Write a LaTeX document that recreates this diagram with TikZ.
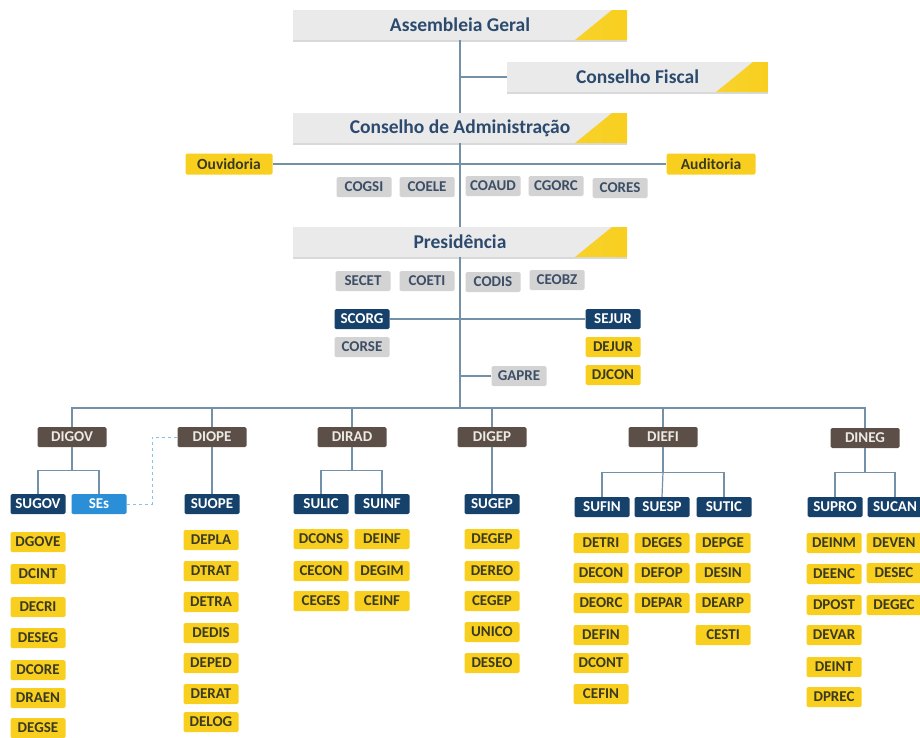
\documentclass[tikz,border=0pt]{standalone}
\usepackage{fontspec}
\setmainfont{Carlito}
\usetikzlibrary{shadows}

\definecolor{linkblue}{HTML}{7290A8}
\definecolor{titlegray}{HTML}{EAEAEA}
\definecolor{titletext}{HTML}{2C4A6E}
\definecolor{boxgray}{HTML}{D3D3D3}
\definecolor{graytext}{HTML}{3C4E66}
\definecolor{navy}{HTML}{15416A}
\definecolor{dirbrown}{HTML}{5B4F47}
\definecolor{browntext}{HTML}{EDE9E4}
\definecolor{sesblue}{HTML}{2A8FD6}
\definecolor{ylw}{HTML}{F8CF1F}
\definecolor{ylwlight}{HTML}{FBE36A}
\definecolor{ylwtext}{HTML}{3A3A22}

\begin{document}
\begin{tikzpicture}[x=1pt,y=-1pt,
  link/.style={draw=linkblue, line width=1.2pt},
  selink/.style={draw=sesblue!55, line width=1pt, dashed},
  unit/.style={rounded corners=1.5pt, inner sep=0pt, minimum height=20pt,
    minimum width=55pt, font=\fontsize{15}{16}\selectfont\bfseries},
  board/.style={unit, fill=boxgray, text=graytext},
  leaf/.style={unit, fill=ylw, text=ylwtext},
  supbox/.style={unit, fill=navy, text=white},
  dirbox/.style={unit, minimum width=69pt, fill=dirbrown, text=browntext},
  titlebox/.style={fill=titlegray, minimum width=334pt, minimum height=30pt,
    inner sep=0pt, text=titletext, font=\fontsize{19.5}{21}\selectfont\bfseries,
    drop shadow={shadow xshift=0pt, shadow yshift=-2pt, opacity=.3, fill=black!50},
    path picture={\shade[left color=ylwlight, right color=ylw]
      ([xshift=-52pt]path picture bounding box.south east) --
      ([xshift=-15pt]path picture bounding box.north east) --
      (path picture bounding box.north east) --
      (path picture bounding box.south east) -- cycle;}}]

  \def\xmin{0}
  \def\xmax{920}
  \def\ymin{0}
  \def\ymax{737}
  \useasboundingbox (\xmin,\ymin) rectangle (\xmax,\ymax);

  % councils
  \node[titlebox] (ag) at (460,25) {Assembleia Geral};
  \node[titlebox, minimum width=261pt] (cf) at (637.5,77) {Conselho Fiscal};
  \node[titlebox] (ca) at (460,128) {Conselho de Administração};
  \node[titlebox] (pres) at (460,242) {Presidência};

  \node[leaf, minimum width=87pt, minimum height=21pt,
    font=\fontsize{15.5}{16}\selectfont\bfseries] (ouv) at (229,164) {Ouvidoria};
  \node[leaf, minimum width=89pt, minimum height=21pt,
    font=\fontsize{15.5}{16}\selectfont\bfseries] (aud) at (711,164) {Auditoria};

  \foreach \lbl/\x/\y in {COGSI/364/187, COELE/427/187, COAUD/493/186,
                          CGORC/556/186, CORES/620/188,
                          SECET/363/281, COETI/427/281, CODIS/493/282,
                          CEOBZ/557/280, CORSE/362/347, GAPRE/519/376}
    \node[board] (\lbl) at (\x,\y) {\lbl};

  \node[supbox] (scorg) at (362,319) {SCORG};
  \node[supbox] (sejur) at (613,319) {SEJUR};
  \node[leaf] (dejur) at (613,347) {DEJUR};
  \node[leaf] (djcon) at (613,375) {DJCON};

  % trunk
  \coordinate (bus) at (460,408);
  \draw[link] (ag.south) -- (ca.north);
  \draw[link] (cf.west) -- (cf.west -| ag.south);
  \draw[link] (ca.south) -- (pres.north);
  \draw[link] (ouv.east) -- (aud.west);
  \draw[link] (pres.south) -- (pres.south |- bus);
  \draw[link] (scorg.east) -- (sejur.west);
  \draw[link] (GAPRE.west) -- (GAPRE.west -| pres.south);

  % directorates
  \node[dirbox] (digov) at (72,437) {DIGOV};
  \node[dirbox] (diope) at (212,437) {DIOPE};
  \node[dirbox] (dirad) at (352,437) {DIRAD};
  \node[dirbox] (digep) at (492,437) {DIGEP};
  \node[dirbox] (diefi) at (663,437) {DIEFI};
  \node[dirbox] (dineg) at (865,438) {DINEG};

  \draw[link] (digov.north) |- (dineg.north |- bus) -- (dineg.north);
  \foreach \d in {diope,dirad,digep,diefi}
    \draw[link] (\d.north) -- (\d.north |- bus);

  % superintendencies
  \node[supbox] (sugov) at (38,504) {SUGOV};
  \node[unit, fill=sesblue, text=white] (ses) at (99,504) {SEs};
  \node[supbox] (suope) at (212,504) {SUOPE};
  \node[supbox] (sulic) at (321,504) {SULIC};
  \node[supbox] (suinf) at (382,504) {SUINF};
  \node[supbox] (sugep) at (492,504) {SUGEP};
  \node[supbox] (sufin) at (602,507) {SUFIN};
  \node[supbox] (suesp) at (662,507) {SUESP};
  \node[supbox] (sutic) at (724,507) {SUTIC};
  \node[supbox] (supro) at (835,507) {SUPRO};
  \node[supbox] (sucan) at (895,507) {SUCAN};

  \draw[link] (digov.south) -- ++(0,23) coordinate (fgov);
  \draw[link] (sugov.north) |- (fgov) -| (ses.north);
  \draw[link] (diope.south) -- (suope.north);
  \draw[link] (dirad.south) -- ++(0,23) coordinate (frad);
  \draw[link] (sulic.north) |- (frad) -| (suinf.north);
  \draw[link] (digep.south) -- (sugep.north);
  \draw[link] (diefi.south) -- ++(0,25) coordinate (fefi);
  \draw[link] (sufin.north) |- (fefi) -| (sutic.north);
  \draw[link] (fefi) -- (suesp.north);
  \draw[link] (dineg.south) -- ++(0,24) coordinate (fneg);
  \draw[link] (supro.north) |- (fneg) -| (sucan.north);

  % SEs to DIOPE
  \coordinate (sesjoin) at (152,437);
  \draw[selink] (ses.east) -| (sesjoin) -- (diope.west);

  % departments
  \foreach \lbl/\y in {DGOVE/542, DCINT/574, DECRI/607, DESEG/638,
                       DCORE/670, DRAEN/698, DEGSE/728}
    \node[leaf] (\lbl) at (38,\y) {\lbl};
  \foreach \lbl/\y in {DEPLA/540, DTRAT/571, DETRA/602, DEDIS/633,
                       DEPED/663, DERAT/694, DELOG/722}
    \node[leaf] (\lbl) at (211,\y) {\lbl};
  \foreach \lbl/\y in {DCONS/539, CECON/571, CEGES/601}
    \node[leaf] (\lbl) at (321,\y) {\lbl};
  \foreach \lbl/\y in {DEINF/539, DEGIM/571, CEINF/601}
    \node[leaf] (\lbl) at (382,\y) {\lbl};
  \foreach \lbl/\y in {DEGEP/539, DEREO/571, CEGEP/601, UNICO/632, DESEO/663}
    \node[leaf] (\lbl) at (492,\y) {\lbl};
  \foreach \lbl/\y in {DETRI/543, DECON/573, DEORC/603, DEFIN/635,
                       DCONT/663, CEFIN/694}
    \node[leaf] (\lbl) at (601,\y) {\lbl};
  \foreach \lbl/\y in {DEGES/543, DEFOP/573, DEPAR/603}
    \node[leaf] (\lbl) at (662,\y) {\lbl};
  \foreach \lbl/\y in {DEPGE/543, DESIN/573, DEARP/603, CESTI/635}
    \node[leaf] (\lbl) at (723,\y) {\lbl};
  \foreach \lbl/\y in {DEINM/543, DEENC/574, DPOST/605, DEVAR/635,
                       DEINT/667, DPREC/697}
    \node[leaf] (\lbl) at (834,\y) {\lbl};
  \foreach \lbl/\y in {DEVEN/543, DESEC/573, DEGEC/605}
    \node[leaf] (\lbl) at (894,\y) {\lbl};

\end{tikzpicture}
\end{document}
